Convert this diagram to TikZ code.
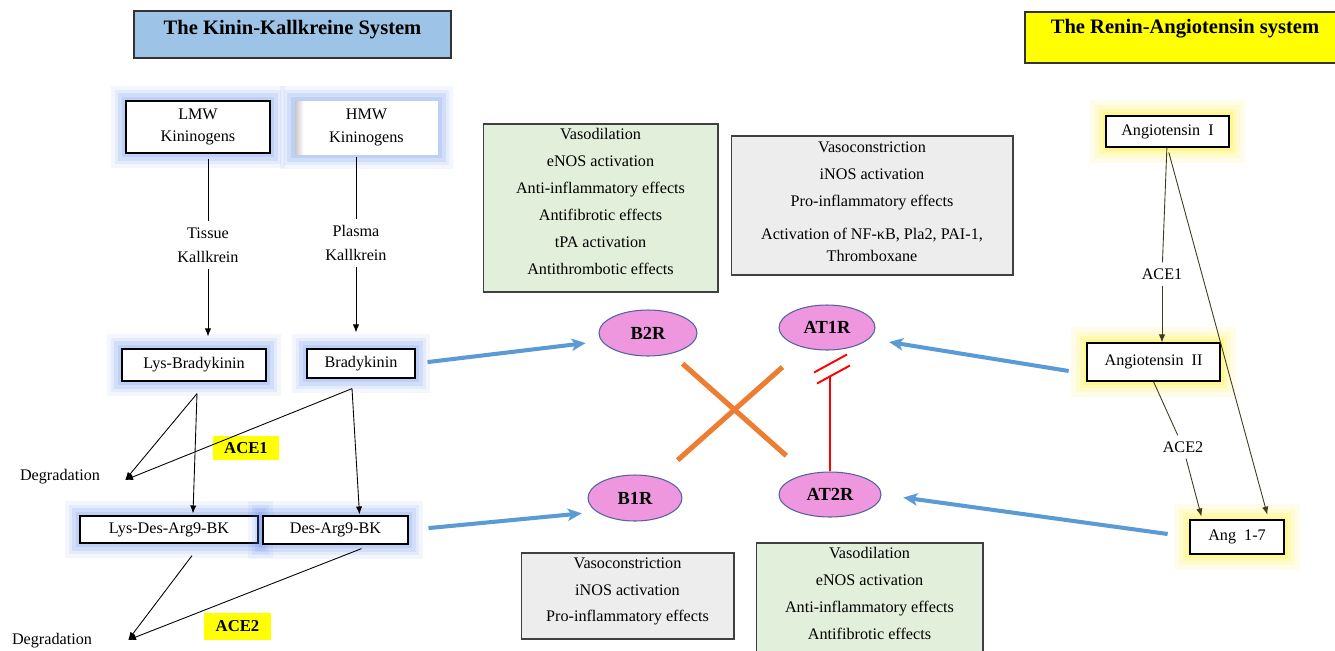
\documentclass[tikz,border=0pt]{standalone}
\usepackage{fontspec}
\setmainfont{Liberation Serif}
\usetikzlibrary{shapes.geometric,arrows.meta,calc,positioning}
\definecolor{K}{RGB}{157,195,230}
\definecolor{Y}{RGB}{255,255,0}
\definecolor{G}{RGB}{226,239,218}
\definecolor{E}{RGB}{237,237,237}
\definecolor{P}{RGB}{238,150,222}
\definecolor{R}{RGB}{84,98,160}
\definecolor{O}{RGB}{237,125,49}
\definecolor{B}{RGB}{91,155,213}
\definecolor{H}{RGB}{85,130,240}
\definecolor{L}{RGB}{255,245,90}
\definecolor{D}{RGB}{60,60,30}
\pgfdeclarehorizontalshading{bevel}{100bp}{color(0bp)=(black!22); color(25bp)=(black!22); color(28bp)=(white); color(100bp)=(white)}
\tikzstyle{title} = [draw=black!80, line width=0.8pt,
font=\bfseries\fontsize{11.7}{14}\selectfont, inner sep=0pt]
\tikzstyle{kbox} = [draw, fill=white, line width=0.7pt, inner sep=0pt,
align=center, font=\fontsize{9.2}{13}\selectfont]
\tikzstyle{rbox} = [draw, fill=white, line width=0.7pt, inner sep=0pt]
\tikzstyle{bglow} = [preaction={draw=H, line width=17pt, opacity=0.07},
preaction={draw=H, line width=13pt, opacity=0.09},
preaction={draw=H, line width=9pt, opacity=0.12},
preaction={draw=H, line width=5pt, opacity=0.15}]
\tikzstyle{yglow} = [preaction={draw=L, line width=18pt, opacity=0.12},
preaction={draw=L, line width=13pt, opacity=0.18},
preaction={draw=L, line width=8pt, opacity=0.25},
preaction={draw=L, line width=4pt, opacity=0.35}]
\tikzstyle{effect} = [draw=black!75, line width=0.6pt, inner sep=0pt,
align=center, font=\fontsize{9.2}{15.3}\selectfont]
\tikzstyle{enzyme} = [fill=Y, inner sep=0pt, font=\bfseries\fontsize{9.5}{11}\selectfont]
\tikzstyle{receptor} = [ellipse, draw=R, fill=P, line width=0.6pt, inner sep=0pt,
font=\bfseries\fontsize{10.5}{12}\selectfont]
\tikzstyle{arrow} = [-{Latex[length=4.5pt,width=3.6pt]}, line width=0.5pt]
\tikzstyle{rarrow} = [arrow, draw=D]
\tikzstyle{bluearrow} = [-{Stealth[length=8pt,width=7pt,inset=2pt]}, draw=B, line width=2.3pt]
\tikzstyle{cross} = [draw=O, line width=2.9pt]
\tikzstyle{inhib} = [draw=red, line width=1.1pt]

\begin{document}
\begin{tikzpicture}[x=0.02cm, y=-0.02cm, font=\fontsize{9.2}{13.6}\selectfont]
\useasboundingbox (0,0) rectangle (1335,650);
\fill[white] (0,0) rectangle (1335,650);
% titles
\node[title, fill=K, minimum width=6.34cm, minimum height=0.94cm] (kks) at (292.5,34.5)
  {The Kinin-Kallkreine System\rule[-0.3cm]{0pt}{0.3cm}};
\node[title, fill=Y, minimum width=6.4cm, minimum height=1.02cm] (ras) at (1185,37.5)
  {The Renin-Angiotensin system\rule[-0.43cm]{0pt}{0.43cm}};
% kinin side
\node[kbox, bglow, minimum width=2.88cm, minimum height=1.04cm] (lmw) at (198,127) {LMW\\Kininogens};
\node[kbox, draw=none, shading=bevel, bglow, minimum width=2.86cm, minimum height=1.06cm] (hmw) at (366.5,127.5) {HMW\\Kininogens};
\node[align=center] (tissue) at (208,245) {Tissue\\Kallkrein};
\node[align=center] (plasma) at (356,243) {Plasma\\Kallkrein};
\node[kbox, bglow, minimum width=2.88cm, minimum height=0.64cm] (lysbk) at (194,365) {Lys-Bradykinin};
\node[kbox, bglow, minimum width=2.16cm, minimum height=0.58cm] (bk) at (361,363.5) {Bradykinin};
\node[kbox, bglow, minimum width=3.56cm, minimum height=0.54cm] (lysdes) at (169,529.5) {Lys-Des-Arg9-BK};
\node[kbox, bglow, minimum width=2.9cm, minimum height=0.56cm] (desarg) at (335.5,530) {Des-Arg9-BK};
\node (deg1) at (60,477) {Degradation};
\node (deg2) at (52,641) {Degradation};
\node[enzyme, minimum width=1.32cm, minimum height=0.48cm] (ace1k) at (246,448) {ACE1};
\node[enzyme, minimum width=1.34cm, minimum height=0.54cm] (ace2k) at (237.5,626.5) {ACE2};
% effects
\node[effect, fill=G, minimum width=4.7cm, minimum height=3.36cm] (b2eff) at (600.5,208)
  {Vasodilation\\eNOS activation\\Anti-inflammatory effects\\Antifibrotic effects\\tPA activation\\Antithrombotic effects\rule[-0.27cm]{0pt}{0.27cm}};
\node[effect, fill=E, minimum width=5.64cm, minimum height=2.78cm] (at1eff) at (872,205.5)
  {Vasoconstriction\\iNOS activation\\Pro-inflammatory effects\\[3.4pt]Activation of NF-κB, Pla2, PAI-1,\\[-2.3pt]Thromboxane\rule[-0.15cm]{0pt}{0.15cm}};
\node[effect, fill=E, minimum width=4.26cm, minimum height=1.72cm] (b1eff) at (627.5,596)
  {Vasoconstriction\\iNOS activation\\Pro-inflammatory effects\rule[-0.25cm]{0pt}{0.25cm}};
\node[effect, fill=G, minimum width=4.54cm, minimum height=2.34cm] (at2eff) at (869.5,601.5)
  {Vasodilation\\eNOS activation\\Anti-inflammatory effects\\Antifibrotic effects\rule[-0.33cm]{0pt}{0.33cm}};
% receptors
\node[receptor, minimum width=1.96cm, minimum height=0.92cm] (b2r) at (648,333) {B2R};
\node[receptor, minimum width=1.92cm, minimum height=0.9cm] (at1r) at (827,327.5) {AT1R};
\node[receptor, minimum width=1.88cm, minimum height=0.92cm] (b1r) at (635,498) {B1R};
\node[receptor, minimum width=2.04cm, minimum height=0.9cm] (at2r) at (830,494.5) {AT2R};
% renin side
\node[rbox, yglow, minimum width=2.46cm, minimum height=0.62cm] (angI) at (1167.5,131.5) {Angiotensin~ I};
\node[rbox, yglow, minimum width=2.66cm, minimum height=0.76cm] (angII) at (1153.5,362) {Angiotensin~ II};
\node[rbox, yglow, minimum width=1.88cm, minimum height=0.68cm] (ang17) at (1237,537) {Ang~ 1-7};
\node (ace1r) at (1162,274) {ACE1};
\node (ace2r) at (1183,447) {ACE2};

% kinin connectors
\draw[line width=0.5pt, shorten <=2.8pt] (lmw.south -| tissue) -- (tissue);
\draw[arrow, shorten >=0.24cm] (tissue) -- (tissue |- lysbk.north);
\draw[line width=0.5pt, shorten <=1.5pt] (hmw.south -| plasma) -- (plasma);
\draw[arrow, shorten >=0.32cm] (plasma) -- (plasma |- bk.north);
\coordinate (lbo) at ($(lysbk.south)+(3,12)$);
\coordinate (bko) at ($(bk.south)+(-9,10)$);
\coordinate (d1) at ($(deg1.east)+(19,3)$);
\draw[arrow] (lbo) -- (d1);
\draw[arrow] (lbo) -- ($(lysdes.north)+(24,-2)$);
\draw[arrow] (bko) -- (d1);
\draw[arrow] (bko) -- ($(desarg.north)+(24,-1)$);
\coordinate (ldo) at ($(lysdes.south)+(23,12)$);
\coordinate (dso) at ($(desarg.south)+(26,4)$);
\coordinate (d2) at ($(deg2.east)+(30,-1)$);
\draw[arrow] (ldo) -- (d2);
\draw[arrow] (dso) -- (d2);
% receptor links
\draw[bluearrow, shorten <=0.24cm, shorten >=0.32cm] (bk.east) -- (b2r.190);
\draw[bluearrow, shorten <=0.4cm, shorten >=0.3cm] (desarg.east) -- (b1r.200);
\draw[bluearrow, shorten <=0.36cm, shorten >=0.4cm] (angII.190) -- (at1r.-15);
\draw[bluearrow, shorten <=0.44cm, shorten >=0.44cm] (ang17.west) -- (at2r.east);
\draw[cross, shorten <=0.3cm, shorten >=0.55cm] (b2r) -- (at2r);
\draw[cross, shorten <=0.58cm, shorten >=0.52cm] (at1r) -- (b1r);
\draw[inhib] (at2r.north) -- ++(0,-95) coordinate (blk);
\draw[inhib] ($(blk)+(-13,7)$) -- ++(33,-18);
\draw[inhib] ($(blk)+(-16,-4)$) -- ++(33,-18);
% renin connectors
\draw[draw=D, line width=0.5pt] (angI) -- (ace1r);
\draw[rarrow] (ace1r) -- (ace1r |- angII.north);
\draw[rarrow, shorten <=0.1cm, shorten >=0.1cm] (angI.south) -- ($(ang17.north east)+(-16,0)$);
\draw[draw=D, line width=0.5pt] (angII.south) -- (ace2r);
\draw[rarrow] (ace2r) -- ($(ang17.north west)+(12,-3)$);
\end{tikzpicture}
\end{document}
